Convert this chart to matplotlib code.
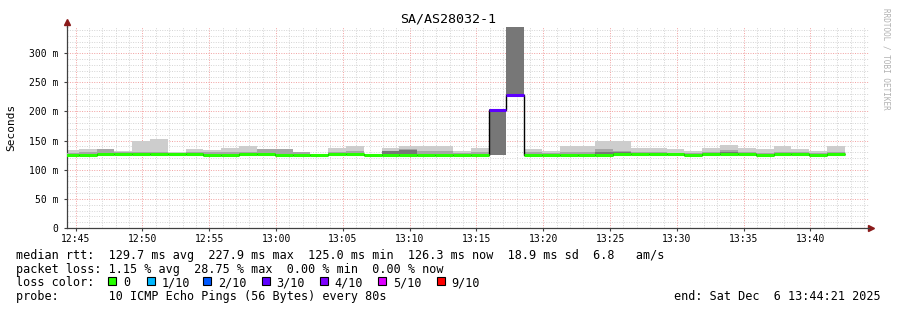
import numpy as np
import matplotlib
matplotlib.use('Agg')
import matplotlib.pyplot as plt
from matplotlib.ticker import MultipleLocator, FuncFormatter
from matplotlib.patches import Rectangle

# per 80 s step, starting 12:43:54 (minutes after 12:00)
start_min = 43.9
step_sec = 80
median = [125, 125, 127, 127, 127, 127, 127, 127, 125, 125, 126.5, 126.5, 125, 125, 125,
          127, 127, 125, 126, 126, 125, 125, 126, 126, 203, 227.9, 125, 125, 125, 125,
          126, 127.5, 126.5, 126.5, 127, 126, 127, 127, 127, 125, 127, 127, 125, 126.3]
smoke_min = [124, 124, 126, 126, 126, 126, 126, 126, 124, 124, 125.5, 125.5, 124, 124, 124,
             126, 126, 124, 125, 125, 124, 124, 125, 125, 125, 228, 124, 124, 124, 124,
             125, 126.5, 125.5, 125.5, 126, 125, 126, 126, 126, 124, 126, 126, 124, 125.3]
smoke_max = [134, 135, 135, 132, 150, 153, 130, 135, 134, 138, 140, 136, 136, 130, 127,
             137, 140, 127, 137, 141, 141, 140, 133, 137, 205, 360, 136, 133, 140, 140,
             149, 149, 138, 138, 136, 132.5, 138, 143, 138, 135.5, 140, 136, 132.5, 140]
smoke_mid = [128, 131, 135, 130, 130, 131, 129, 131, 131, 130, 130, 136, 136, 130, 127,
             131, 133, 127, 133, 136, 133, 132, 129, 130, 205, 360, 131, 128, 130, 130,
             136, 133, 131, 131, 129, 129, 131, 134, 131, 128, 131, 130, 128, 131]
smoke_dark = [np.nan] * 18 + [132, 134] + [np.nan] * 4 + [205, 360] + [np.nan] * 4 + \
             [131, 130] + [np.nan] * 5 + [130, 129] + [np.nan] * 5
loss = [0] * 24 + [3, 3] + [0] * 18

loss_labels = ['0', '1/10', '2/10', '3/10', '4/10', '5/10', '9/10']
loss_counts = [0, 1, 2, 3, 4, 5, 9]
loss_colors = ['#26ff00', '#00b8ff', '#0059ff', '#5e00ff', '#7e00ff', '#dd00ff', '#ff0000']

rtt_line = 'median rtt:  129.7 ms avg  227.9 ms max  125.0 ms min  126.3 ms now  18.9 ms sd  6.8   am/s'
loss_line = 'packet loss: 1.15 % avg  28.75 % max  0.00 % min  0.00 % now'
probe_line = 'probe:       10 ICMP Echo Pings (56 Bytes) every 80s'
end_line = 'end: Sat Dec  6 13:44:21 2025'
title = 'SA/AS28032-1'

MONO = 'DejaVu Sans Mono'
W, H = 897, 310
fig = plt.figure(figsize=(W / 100, H / 100), dpi=100)
ax = fig.add_axes([67 / W, 1 - 228 / H, (868.6 - 67) / W, (228 - 27) / H])

edges = start_min + step_sec / 60 * np.arange(len(median) + 1)
smin = np.array(smoke_min)
dark = np.where(np.isnan(smoke_dark), smin, smoke_dark)

ax.stairs(smoke_max, edges, baseline=smin, fill=True, color='#cdcdcd', lw=0, zorder=2)
ax.stairs(smoke_mid, edges, baseline=smin, fill=True, color='#a6a6a6', lw=0, zorder=3)
ax.stairs(dark, edges, baseline=smin, fill=True, color='#777777', lw=0, zorder=4)

ax.stairs(median, edges, baseline=None, color='black', lw=1, zorder=5)
cmap = dict(zip(loss_counts, loss_colors))
ax.hlines(median, edges[:-1], edges[1:], colors=[cmap[l] for l in loss],
          lw=2.2, zorder=6, capstyle='butt')

ax.set_xlim(44 + 21 / 60, 104 + 21 / 60)
ax.set_ylim(0, 345)
ax.xaxis.set_major_locator(MultipleLocator(5))
ax.xaxis.set_minor_locator(MultipleLocator(1))
ax.yaxis.set_major_locator(MultipleLocator(50))
ax.yaxis.set_minor_locator(MultipleLocator(10))
ax.xaxis.set_major_formatter(FuncFormatter(lambda v, p: f'{12 + int(round(v)) // 60}:{int(round(v)) % 60:02d}'))
ax.yaxis.set_major_formatter(FuncFormatter(lambda v, p: '0' if v == 0 else f'{int(v)} m'))

ax.grid(which='minor', color='#d4d4d4', ls=(0, (1, 1.5)), lw=0.7, zorder=1)
ax.grid(which='major', color='#f2a0a0', ls=(0, (1, 1.5)), lw=0.7, zorder=1)
ax.set_axisbelow(True)

for s in ['top', 'right']:
    ax.spines[s].set_visible(False)
for s in ['left', 'bottom']:
    ax.spines[s].set_color('#404040')
    ax.spines[s].set_linewidth(0.9)
ax.tick_params(which='major', length=2, color='#404040', labelsize=7)
ax.tick_params(which='minor', length=0)
ax.tick_params(axis='x', pad=2.5)
ax.tick_params(axis='y', pad=4)
for lab in ax.get_xticklabels() + ax.get_yticklabels():
    lab.set_family(MONO)

# axis arrows
ax.plot([0, 0], [1, 1.02], color='#404040', lw=0.9, transform=ax.transAxes, clip_on=False)
ax.plot(0, 1.025, marker='^', ms=4, color='#8b1a1a', transform=ax.transAxes, clip_on=False)
ax.plot(1.003, 0, marker='>', ms=4, color='#8b1a1a', transform=ax.transAxes, clip_on=False)

fig.text(448 / W, 1 - 19 / H, title, ha='center', va='center', fontsize=9.6, family=MONO)
fig.text(11 / W, 1 - 127 / H, 'Seconds', rotation=90, ha='center', va='center',
         fontsize=8, family=MONO)
fig.text(886 / W, 1 - 59 / H, 'RRDTOOL / TOBI OETIKER', rotation=270, ha='center',
         va='center', fontsize=5.5, family=MONO, color='#b0b0b0')

fs = 8.5
fig.text(16 / W, 1 - 259 / H, rtt_line, fontsize=fs, family=MONO, va='baseline')
fig.text(16 / W, 1 - 272.7 / H, loss_line, fontsize=fs, family=MONO, va='baseline')
fig.text(16 / W, 1 - 286.4 / H, 'loss color:', fontsize=fs, family=MONO, va='baseline')
sq_x = [108.3, 146.7, 203.3, 261.7, 320, 378.3, 436.7]
for x, lbl, c in zip(sq_x, loss_labels, loss_colors):
    fig.add_artist(Rectangle((x / W, 1 - 284.5 / H), 8 / W, 8 / H, transform=fig.transFigure,
                             facecolor=c, edgecolor='black', lw=0.8))
    fig.text((x + 14.5) / W, 1 - 286.4 / H, lbl, fontsize=fs, family=MONO, va='baseline')
fig.text(16 / W, 1 - 300.1 / H, probe_line, fontsize=fs, family=MONO, va='baseline')
fig.text(881 / W, 1 - 300.1 / H, end_line, fontsize=fs, family=MONO, va='baseline', ha='right')

fig.savefig('out.png', dpi=100)
